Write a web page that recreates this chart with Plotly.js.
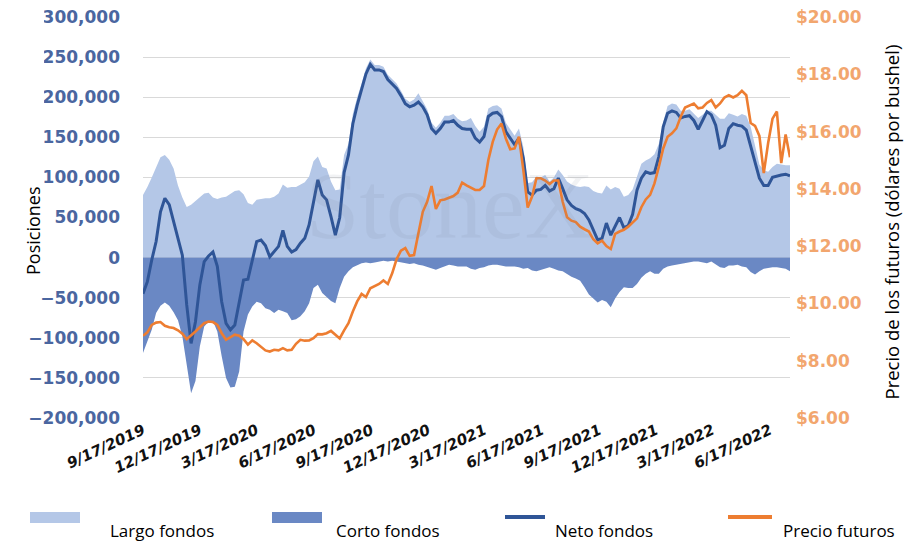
<!DOCTYPE html>
<html>
<head>
<meta charset="utf-8">
<script src="https://cdn.plot.ly/plotly-3.0.1.min.js"></script>
<style>
html,body{margin:0;padding:0;background:#fff;}
#chart{width:920px;height:541px;}
</style>
</head>
<body>
<div id="chart"></div>
<script>
// ---- data (weekly, starting 9/17/2019) ----
const startDate = '2019-09-17';
const weekCount = 149;

const largoFondos = [
 78000, 88000,100000,113000,125000,128000,122000,111000, 90000, 75000,
 63000, 66000, 71000, 75000, 80000, 81000, 75000, 73000, 75000, 76000,
 79000, 83000, 84000, 79000, 68000, 66000, 72000, 73000, 74000, 74000,
 76000, 80000, 91000, 87000, 88000, 88000, 91000, 94000,101000,120000,
126000,113000,111000, 95000, 84000, 85000,128000,142000,179000,200000,
217000,236000,247000,240000,240000,238000,228000,223000,217000,208000,
198000,194000,197000,205000,195000,185000,168000,162000,168000,177000,
177000,179000,173000,170000,171000,174000,164000,157000,163000,186000,
189000,190000,186000,168000,160000,152000,161000,138000, 93000, 94000,
101000,100000,103000, 95000,100000,110000,103000, 95000, 91000, 89000,
 88000, 89000, 88000, 83000, 81000, 80000, 90000, 85000, 88000, 86000,
 76000, 78000, 85000,101000,117000,121000,124000,129000,142000,169000,
189000,192000,191000,183000,183000,185000,179000,174000,178000,183000,
183000,178000,173000,173000,180000,178000,176000,179000,177000,163000,
138000,116000,109000,107000,113000,117000,116000,115000,115000
];

const cortoFondos = [
-119000,-105000, -90000, -69000, -60000, -56000, -60000, -68000, -78000, -98000,
-136000,-169000,-154000,-111000, -86000, -80000, -79000, -92000,-123000,-150000,
-162000,-161000,-142000, -92000, -71000, -61000, -55000, -57000, -63000, -65000,
 -69000, -65000, -67000, -69000, -78000, -77000, -73000, -67000, -57000, -38000,
 -34000, -44000, -49000, -54000, -57000, -38000, -24000, -17000, -12000,  -9000,
  -7000,  -6000,  -7000,  -6000,  -5000,  -4000,  -5000,  -4000,  -5000,  -6000,
  -7000,  -8000,  -7000,  -9000, -10000, -12000, -14000, -15000, -13000, -11000,
  -9000, -10000, -11000, -11000, -11000, -14000, -15000, -13000, -12000, -10000,
  -9000,  -9000, -10000, -11000, -11000, -11000, -12000, -14000, -13000, -16000,
 -17000, -15000, -13000, -12000, -14000, -16000, -17000, -21000, -24000, -26000,
 -29000, -37000, -46000, -51000, -56000, -53000, -55000, -62000, -51000, -43000,
 -37000, -38000, -38000, -33000, -25000, -20000, -17000, -20000, -20000, -14000,
 -11000, -10000,  -9000,  -8000,  -7000,  -6000,  -5000,  -5000,  -6000,  -7000,
  -5000,  -8000, -12000, -13000, -10000, -10000,  -9000, -11000, -12000, -18000,
 -21000, -17000, -14000, -13000, -12000, -12000, -13000, -14000, -17000
];

const netoFondos = [
 -45000, -30000,  -3000,  20000,  57000,  74000,  66000,  43000,  24000,   3000,
 -59000,-107000, -80000, -34000,  -5000,   2000,   7000, -11000, -55000, -82000,
 -90000, -84000, -55000, -28000, -27000,  -3000,  20000,  22000,  15000,   1000,
   7000,  14000,  34000,  14000,   7000,  10000,  18000,  24000,  41000,  68000,
  97000,  78000,  72000,  51000,  28000,  50000, 106000, 128000, 167000, 190000,
 209000, 229000, 241000, 234000, 234000, 232000, 222000, 217000, 211000, 202000,
 192000, 188000, 190000, 194000, 188000, 178000, 161000, 155000, 161000, 169000,
 169000, 171000, 165000, 161000, 160000, 160000, 149000, 144000, 151000, 176000,
 180000, 181000, 176000, 157000, 149000, 141000, 149000, 124000,  82000,  78000,
  84000,  85000,  90000,  83000,  86000,  99000,  86000,  72000,  65000,  61000,
  59000,  55000,  47000,  34000,  22000,  24000,  43000,  28000,  39000,  50000,
  37000,  40000,  54000,  84000,  99000, 107000, 105000, 106000, 126000, 163000,
 180000, 183000, 181000, 174000, 176000, 177000, 171000, 160000, 171000, 182000,
 178000, 165000, 137000, 140000, 161000, 167000, 165000, 164000, 159000, 140000,
 119000,  99000,  90000,  90000, 100000, 102000, 103000, 104000, 102000
];

const precioFuturos = [
 8.87, 8.99, 9.25, 9.33, 9.35, 9.22, 9.17, 9.14, 9.06, 8.94,
 8.75, 8.87, 9.02, 9.17, 9.31, 9.37, 9.35, 9.25, 8.96, 8.73,
 8.81, 8.91, 8.87, 8.75, 8.56, 8.71, 8.61, 8.50, 8.36, 8.32,
 8.38, 8.36, 8.44, 8.36, 8.38, 8.59, 8.73, 8.70, 8.71, 8.79,
 8.93, 8.92, 8.96, 9.04, 8.91, 8.78, 9.06, 9.31, 9.72,10.07,
10.33,10.22,10.53,10.61,10.68,10.80,10.68,11.05,11.54,11.84,
11.93,11.66,11.69,12.45,13.20,13.55,14.10,13.30,13.60,13.63,
13.70,13.75,13.87,14.22,14.12,14.05,13.96,13.96,14.10,15.01,
15.64,16.07,16.28,15.76,15.38,15.41,15.82,14.66,13.35,13.73,
14.37,14.37,14.29,14.17,14.29,14.29,13.55,13.01,12.89,12.84,
12.68,12.59,12.51,12.24,12.10,12.19,12.00,11.90,12.43,12.51,
12.57,12.68,12.82,12.97,13.36,13.63,13.79,14.19,14.77,15.41,
15.82,15.94,16.11,16.52,16.84,16.90,16.98,16.81,16.84,17.00,
17.10,16.84,16.98,17.19,17.27,17.19,17.27,17.42,17.27,16.30,
16.20,15.85,14.55,15.60,16.45,16.70,14.90,15.90,15.10
];

const tickDates  = ['2019-09-17','2019-12-17','2020-03-17','2020-06-17','2020-09-17','2020-12-17',
                    '2021-03-17','2021-06-17','2021-09-17','2021-12-17','2022-03-17','2022-06-17'];
const tickLabels = ['9/17/2019','12/17/2019','3/17/2020','6/17/2020','9/17/2020','12/17/2020',
                    '3/17/2021','6/17/2021','9/17/2021','12/17/2021','3/17/2022','6/17/2022'];

const seriesNames = ['Largo fondos','Corto fondos','Neto fondos','Precio futuros'];
const leftTitle  = 'Posiciones';
const rightTitle = 'Precio de los futuros (dólares por bushel)';
const watermark  = 'StoneX';

// weekly dates
const dates = [];
{
  const t0 = Date.parse(startDate + 'T00:00:00Z');
  for (let i = 0; i < weekCount; i++) {
    dates.push(new Date(t0 + i * 7 * 86400000).toISOString().slice(0, 10));
  }
}

// ---- styling ----
const W = 920, H = 541;
const M = {l: 143, r: 130, t: 17, b: 123};
const PW = W - M.l - M.r, PH = H - M.t - M.b;
const px2x = p => (p - M.l) / PW;
const px2y = p => (H - M.b - p) / PH;

const C_LARGO = '#B4C7E7', C_CORTO = '#6A88C4', C_NETO = '#2F5597', C_PRECIO = '#ED7D31';

const traces = [
  {x: dates, y: largoFondos, name: seriesNames[0], type: 'scatter', mode: 'lines',
   fill: 'tozeroy', fillcolor: C_LARGO, line: {width: 0, color: C_LARGO}, showlegend: false},
  {x: dates, y: cortoFondos, name: seriesNames[1], type: 'scatter', mode: 'lines',
   fill: 'tozeroy', fillcolor: C_CORTO, line: {width: 0, color: C_CORTO}, showlegend: false},
  {x: dates, y: netoFondos, name: seriesNames[2], type: 'scatter', mode: 'lines',
   line: {width: 3, color: C_NETO}, showlegend: false},
  {x: dates, y: precioFuturos, name: seriesNames[3], type: 'scatter', mode: 'lines',
   yaxis: 'y2', line: {width: 2.6, color: C_PRECIO}, showlegend: false}
];

const tickFontL = {family: 'DejaVu Sans', size: 17, color: '#4A66A0', weight: 'bold'};
const tickFontR = {family: 'DejaVu Sans', size: 17, color: '#F2A66E', weight: 'bold'};

const shapes = [
  // white page-edge strip that clips the first digit of the upper left labels (as in the source image)
  {type: 'rect', xref: 'paper', yref: 'paper', layer: 'above',
   x0: px2x(-5), x1: px2x(44), y0: px2y(272), y1: px2y(-5),
   fillcolor: '#ffffff', line: {width: 0}},
  // legend swatches
  {type: 'rect', xref: 'paper', yref: 'paper', x0: px2x(30), x1: px2x(80), y0: px2y(523), y1: px2y(512),
   fillcolor: C_LARGO, line: {width: 0}},
  {type: 'rect', xref: 'paper', yref: 'paper', x0: px2x(272), x1: px2x(322), y0: px2y(523), y1: px2y(512),
   fillcolor: C_CORTO, line: {width: 0}},
  {type: 'line', xref: 'paper', yref: 'paper', x0: px2x(505), x1: px2x(545), y0: px2y(517), y1: px2y(517),
   line: {color: C_NETO, width: 4}},
  {type: 'line', xref: 'paper', yref: 'paper', x0: px2x(728), x1: px2x(772), y0: px2y(517), y1: px2y(517),
   line: {color: C_PRECIO, width: 4}}
];

const legendTextX = [108, 334, 553, 781];
const annotations = [
  {text: watermark, xref: 'paper', yref: 'paper', x: px2x(450), y: px2y(205), showarrow: false,
   font: {family: 'Liberation Serif', size: 96, color: 'rgba(120,125,150,0.10)'}},
  {text: '\u00a0', xref: 'paper', yref: 'paper', x: px2x(-4), y: px2y(-4), xanchor: 'left', yanchor: 'top',
   width: 48, height: 276, bgcolor: '#ffffff', borderpad: 0, borderwidth: 0, showarrow: false,
   font: {size: 10, color: '#ffffff'}},
  {text: leftTitle, xref: 'paper', yref: 'paper', x: px2x(19), y: px2y(231), showarrow: false,
   textangle: -90, font: {family: 'Open Sans', size: 18, color: '#000'}},
  {text: rightTitle, xref: 'paper', yref: 'paper', x: px2x(905), y: px2y(222), showarrow: false,
   textangle: -90, font: {family: 'Open Sans', size: 18.5, color: '#000'}}
];
seriesNames.forEach((n, i) => annotations.push({
  text: n, xref: 'paper', yref: 'paper', x: px2x(legendTextX[i]), y: px2y(530),
  xanchor: 'left', yanchor: 'middle', showarrow: false,
  font: {family: 'Open Sans', size: 17, color: '#000'}
}));

const layout = {
  width: W, height: H, margin: M,
  paper_bgcolor: '#fff', plot_bgcolor: '#fff',
  showlegend: false,
  xaxis: {
    type: 'date', range: [dates[0], dates[dates.length - 1]],
    tickmode: 'array', tickvals: tickDates, ticktext: tickLabels,
    tickangle: -25, ticks: '', showgrid: false, zeroline: false, showline: false,
    tickfont: {family: 'DejaVu Sans', size: 15, color: '#111', weight: 'bold', style: 'italic'}
  },
  yaxis: {
    range: [-200000, 300000], dtick: 50000, tickformat: ',d',
    ticks: '', ticklabelstandoff: 22, showline: false, zeroline: false,
    gridcolor: '#D9D9D9', gridwidth: 1, tickfont: tickFontL
  },
  yaxis2: {
    overlaying: 'y', side: 'right', range: [6, 20], dtick: 2,
    tickprefix: '$', tickformat: '.2f', ticks: '', ticklabelstandoff: 5,
    showgrid: false, zeroline: false, showline: false, tickfont: tickFontR
  },
  shapes: shapes,
  annotations: annotations,
  font: {family: 'Open Sans'}
};

Plotly.newPlot('chart', traces, layout, {displayModeBar: false, staticPlot: true});
</script>
</body>
</html>
